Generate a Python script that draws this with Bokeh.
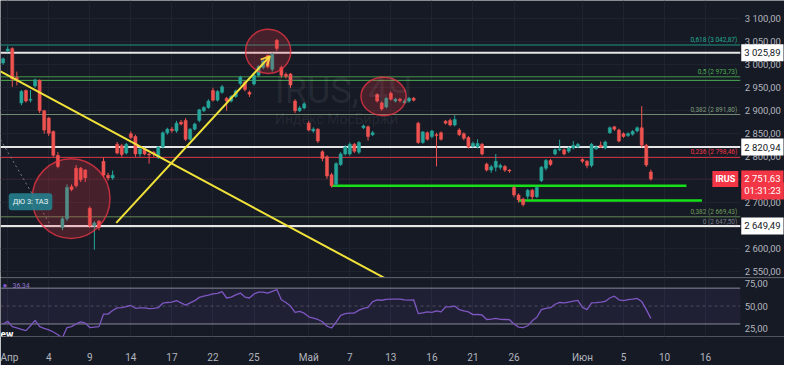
import numpy as np
from bokeh.plotting import figure
from bokeh.layouts import column
from bokeh.models import (ColumnDataSource, FixedTicker, CustomJSTickFormatter,
                          Label, Arrow, OpenHead, Range1d, Span, BoxAnnotation, LinearAxis)
from bokeh.embed import file_html
from bokeh.resources import INLINE

# ---------------- data ----------------
opens = [3004, 3030, 3035, 2972, 2917, 2944, 2923, 2954, 2966, 2900,
         2884, 2855, 2803, 2646, 2665, 2735, 2775, 2775, 2771, 2688,
         2650, 2660, 2790, 2760, 2754, 2827, 2824, 2808, 2850, 2844,
         2806, 2817, 2806, 2810, 2800, 2821, 2852, 2860, 2856, 2875,
         2879, 2838, 2860, 2879, 2900, 2907, 2944, 2923, 2940, 2927,
         2921, 2931, 2959, 2962, 2940, 2958, 2977, 2994, 3020, 2990,
         3053, 2994, 2979, 2980, 2921, 2900, 2906, 2873, 2856, 2860,
         2811, 2800, 2761, 2740, 2783, 2806, 2806, 2827, 2810, 2863,
         2865, 2848, 2935, 2917, 2908, 2938, 2921, 2925, 2917, 2921,
         2927, 2873, 2831, 2852, 2844, 2848, 2852, 2877, 2879, 2869,
         2858, 2850, 2842, 2823, 2821, 2827, 2784, 2771, 2777, 2777,
         2779, 2771, 2733, 2717, 2708, 2714, 2727, 2713, 2748, 2775,
         2792, 2806, 2815, 2815, 2812, 2819, 2822, 2794, 2790, 2781,
         2817, 2825, 2819, 2852, 2865, 2858, 2850, 2846, 2849, 2856,
         2863, 2825, 2767]
closes = [3013, 3034, 2969, 2968, 2942, 2921, 2925, 2967, 2900, 2858,
          2851, 2803, 2779, 2665, 2733, 2729, 2737, 2750, 2754, 2650,
          2656, 2646, 2760, 2754, 2760, 2808, 2805, 2827, 2842, 2806,
          2817, 2806, 2804, 2806, 2821, 2852, 2860, 2857, 2873, 2871,
          2838, 2860, 2871, 2902, 2907, 2921, 2923, 2942, 2952, 2921,
          2931, 2943, 2973, 2946, 2936, 2977, 2996, 3008, 2995, 3023,
          3035, 2977, 2975, 2956, 2900, 2906, 2915, 2858, 2860, 2834,
          2796, 2758, 2737, 2785, 2806, 2821, 2827, 2812, 2831, 2867,
          2844, 2852, 2921, 2904, 2927, 2925, 2925, 2922, 2921, 2927,
          2923, 2831, 2854, 2838, 2856, 2846, 2838, 2873, 2869, 2881,
          2848, 2840, 2821, 2829, 2829, 2806, 2771, 2778, 2790, 2781,
          2771, 2769, 2717, 2706, 2696, 2727, 2713, 2733, 2777, 2792,
          2783, 2815, 2817, 2806, 2819, 2825, 2827, 2790, 2781, 2827,
          2821, 2821, 2832, 2863, 2860, 2834, 2844, 2850, 2855, 2863,
          2825, 2782, 2751.63]
highs = [3016, 3040, 3038, 2985, 2945, 2946, 2945, 2970, 2968, 2902,
         2886, 2857, 2810, 2670, 2740, 2740, 2782, 2778, 2773, 2692,
         2660, 2662, 2798, 2765, 2770, 2832, 2828, 2830, 2855, 2848,
         2820, 2820, 2808, 2812, 2823, 2855, 2863, 2865, 2878, 2880,
         2884, 2862, 2874, 2904, 2910, 2925, 2950, 2945, 2956, 2930,
         2934, 2946, 2976, 2965, 2944, 2980, 2999, 3012, 3022, 3026,
         3056, 2998, 2983, 2982, 2925, 2910, 2918, 2878, 2864, 2862,
         2814, 2803, 2765, 2788, 2810, 2825, 2831, 2830, 2834, 2870,
         2868, 2856, 2938, 2920, 2930, 2942, 2928, 2928, 2925, 2930,
         2930, 2876, 2856, 2855, 2858, 2852, 2855, 2880, 2883, 2890,
         2862, 2853, 2845, 2833, 2838, 2830, 2787, 2782, 2806, 2785,
         2782, 2773, 2736, 2720, 2711, 2730, 2730, 2736, 2780, 2795,
         2795, 2818, 2837, 2818, 2822, 2834, 2830, 2797, 2793, 2830,
         2825, 2833, 2835, 2866, 2867, 2861, 2853, 2853, 2858, 2866,
         2910, 2828, 2772]
lows = [3000, 3027, 2952, 2955, 2912, 2918, 2918, 2950, 2895, 2850,
        2845, 2800, 2775, 2640, 2660, 2725, 2733, 2745, 2745, 2645,
        2598, 2640, 2755, 2748, 2750, 2805, 2800, 2805, 2838, 2800,
        2800, 2803, 2785, 2800, 2795, 2818, 2848, 2852, 2852, 2868,
        2834, 2835, 2857, 2875, 2897, 2904, 2920, 2920, 2937, 2900,
        2918, 2928, 2955, 2942, 2930, 2955, 2974, 2990, 2992, 2985,
        3030, 2972, 2970, 2950, 2895, 2897, 2903, 2855, 2852, 2830,
        2790, 2752, 2733, 2735, 2780, 2803, 2802, 2808, 2806, 2860,
        2835, 2845, 2918, 2900, 2905, 2922, 2918, 2918, 2915, 2918,
        2920, 2828, 2828, 2835, 2840, 2779, 2835, 2870, 2866, 2866,
        2845, 2836, 2818, 2820, 2818, 2803, 2768, 2765, 2768, 2772,
        2767, 2765, 2712, 2700, 2692, 2708, 2706, 2710, 2745, 2770,
        2780, 2803, 2812, 2803, 2808, 2816, 2819, 2786, 2775, 2777,
        2815, 2819, 2816, 2850, 2856, 2831, 2841, 2843, 2846, 2853,
        2820, 2778, 2748]
rsi = [30, 33, 27, 25.5, 24, 22.5, 28, 34, 27, 25,
       23.4, 21, 18, 14.6, 26, 27, 30, 32.3, 31, 26,
       26.5, 27, 41, 41, 45, 48, 48.2, 49.5, 50.7, 47.5,
       48, 48, 47.2, 47.5, 48.2, 53.2, 54, 54.5, 56.2, 53.5,
       51, 53.5, 56, 59.7, 61, 62.2, 63.5, 64.2, 66, 59,
       60, 62.5, 64.5, 60, 59, 63.5, 65.5, 65.5, 64.5, 66.5,
       68.4, 57, 54, 50, 43, 44, 42, 38, 36.5, 35,
       32.5, 27.5, 25.5, 32, 39.5, 41.5, 42.2, 42.2, 45.5, 47.5,
       48.5, 55, 57, 56.5, 57.5, 57.8, 57.8, 57.8, 57, 56.7,
       57, 41.5, 42.5, 43.5, 43, 44.5, 43.5, 49, 49, 50,
       46, 44.5, 43.5, 40.5, 40.8, 40, 35, 35.5, 36.3, 35.2,
       35, 34.8, 30, 26.5, 25.9, 28, 33.5, 37.5, 46, 47.5,
       48.2, 52, 54, 53.5, 54.5, 55.5, 56.3, 48.5, 46, 53.5,
       53.8, 54.3, 55.2, 59, 61, 57, 56, 57.3, 57.7, 58.5,
       55, 46, 36.3]
rsi_last_text = "36,34"

tick_pos = [1, 10, 19, 28, 37, 46, 55, 67, 76, 85, 94, 103, 112, 127, 136, 145, 154]
tick_labels = ["Апр", "4", "9", "14", "17", "22", "25", "Май", "7", "13", "16", "21", "26",
               "Июн", "5", "10", "16"]
price_ticks = [2550, 2600, 2650, 2700, 2750, 2800, 2850, 2900, 2950, 3000, 3050, 3100]
rsi_ticks = [25, 50, 75]

fib_levels = [3042.87, 2973.73, 2891.80, 2798.46, 2669.43, 2647.50]
fib_texts = ["0,618 (3 042,87)", "0,5 (2 973,73)", "0,382 (2 891,80)", "0,236 (2 798,46)",
             "0,382 (2 669,43)", "0 (2 647,50)"]
fib_colors = ["#22ab94", "#4caf50", "#7f9c7c", "#f23645", "#6f9a5a", "#787b86"]
extra_green_level = 2966.0
white_levels = [3025.89, 2820.94, 2649.49]
last_price = 2751.63
last_timer = "01:31:23"
ticker_name = "IRUS"

support_x0 = [72, 113]
support_x1 = [149.8, 153.2]
support_y = [2737, 2705]

trend_x = [-0.58, 83.8]
trend_y = [2985.4, 2535.4]
arrow_start = (24.8, 2656.3)
arrow_end = (58.5, 3018.7)
dotted_x = [-0.58, 10.2]
dotted_y = [2837.5, 2654.0]

circ_x = [14.9, 58.1, 83.4]
circ_y = [2709.0, 3029.0, 2931.0]
circ_w = [17.06, 9.9, 9.9]
circ_h = [173.6, 95.8, 83.3]

note_text = "ДЮ 3: ТАЗ"
note_pos = (6.0, 2702.0)
watermark = ("IRUS, 4Ч", "Индекс МосБиржи")
watermark_pos = (59.6, 2942.0, 2883.0)

rsi_bands = [70, 30]
rsi_mid = 50

# ---------------- style ----------------
BG = "#161a25"
GRID = "#1f2330"
TXT = "#b2b5be"
UP = "#26a69a"
DN = "#ef5350"
YEL = "#f2e33a"
FW = 784
X0, XA, XR = -0.58, 161.6, 171.3   # left edge, pane right edge, canvas right edge (bar units)
X_SCALE = XA - 1.0                  # where the price-scale labels start

price_fmt = CustomJSTickFormatter(code="""
const s = tick.toFixed(2).split('.');
let a = s[0];
if (a.length > 3) { a = a.slice(0, a.length - 3) + ' ' + a.slice(a.length - 3); }
return a + ',' + s[1];
""")


def fmt_price(v):
    return f"{v:,.2f}".replace(",", " ").replace(".", ",")


def style_axis(ax):
    ax.axis_line_color = None
    ax.major_tick_line_color = None
    ax.minor_tick_line_color = None
    ax.major_label_text_color = TXT
    ax.major_label_text_font = "Roboto"
    ax.major_label_text_font_size = "9.5px"


def hline(p, y, **kw):
    p.segment(x0=[X0], y0=[y], x1=[XA], y1=[y], **kw)


def limit_grid(g):
    try:
        g.cross_bounds = (X0, XA)
    except Exception:
        g.visible = False


# ---------------- price pane ----------------
p1 = figure(frame_width=FW, frame_height=277, x_range=Range1d(X0, XR), y_range=Range1d(2537.5, 3139.6),
            output_backend="svg", toolbar_location=None, y_axis_location=None, x_axis_location=None,
            background_fill_color=BG, border_fill_color=BG, outline_line_color=None,
            min_border_left=0, min_border_right=0, min_border_top=0, min_border_bottom=0)
yax = LinearAxis(fixed_location=X_SCALE, ticker=FixedTicker(ticks=price_ticks), formatter=price_fmt)
style_axis(yax)
yax.major_label_standoff = 3
p1.add_layout(yax, "right")
p1.xgrid.ticker = FixedTicker(ticks=tick_pos)
p1.xgrid.grid_line_color = GRID
p1.ygrid.ticker = FixedTicker(ticks=price_ticks)
p1.ygrid.grid_line_color = GRID
limit_grid(p1.ygrid)

# watermark
p1.add_layout(Label(x=watermark_pos[0], y=watermark_pos[1], text=watermark[0], text_font="Roboto",
                    text_font_size="36px", text_color="#ffffff", text_alpha=0.07, text_baseline="middle"))
p1.add_layout(Label(x=watermark_pos[0], y=watermark_pos[2], text=watermark[1], text_font="Roboto",
                    text_font_size="14px", text_color="#ffffff", text_alpha=0.07, text_baseline="middle"))

# levels
for lv, col in zip(fib_levels, fib_colors):
    hline(p1, lv, line_color=col, line_width=1, line_alpha=0.85)
hline(p1, extra_green_level, line_color="#4caf50", line_width=1)
for lv in white_levels:
    hline(p1, lv, line_color="#e6e6e6", line_width=2)
hline(p1, last_price, line_color="#f23645", line_alpha=0.35, line_width=1, line_dash="1 2")
for lv, txt, col in zip(fib_levels, fib_texts, fib_colors):
    p1.add_layout(Label(x=XA, y=lv, text=txt, text_align="right", text_baseline="bottom", x_offset=-3,
                        text_font="Roboto", text_font_size="6.5px", text_color=col, y_offset=1))

# support rays
p1.segment(x0=support_x0, y0=support_y, x1=support_x1, y1=support_y, line_color="#16e01a", line_width=2.5)

# candles
idx = np.arange(len(opens))
o = np.array(opens, dtype=float)
c = np.array(closes, dtype=float)
cols = np.where(c >= o, UP, DN)
src = ColumnDataSource(dict(x=idx, h=highs, l=lows, top=np.maximum(o, c), bot=np.minimum(o, c), col=cols))
p1.segment("x", "h", "x", "l", source=src, line_color="col", line_width=1)
p1.vbar(x="x", width=0.68, top="top", bottom="bot", source=src, fill_color="col", line_color="col",
        line_width=0.5)

# drawings
p1.line(trend_x, trend_y, line_color=YEL, line_width=2)
p1.line(dotted_x, dotted_y, line_color="#787b86", line_width=1, line_dash="2 3")
p1.add_layout(Arrow(end=OpenHead(size=9, line_color="#f5c542", line_width=2),
                    x_start=arrow_start[0], y_start=arrow_start[1], x_end=arrow_end[0], y_end=arrow_end[1],
                    line_color=YEL, line_width=2))
p1.ellipse(x=circ_x, y=circ_y, width=circ_w, height=circ_h, fill_color="#f23645", fill_alpha=0.22,
           line_color="#f23645", line_alpha=0.75, line_width=1.5)
p1.add_layout(Label(x=note_pos[0], y=note_pos[1], text=note_text, text_align="center", text_baseline="middle",
                    text_font="Roboto", text_font_size="7.5px", text_color="#e8f4f6",
                    background_fill_color="#25808e", background_fill_alpha=0.9, padding=4, border_radius=3))

# price tags on the price scale
for lv in white_levels:
    p1.add_layout(Label(x=XA, y=lv, x_offset=1, text=fmt_price(lv), text_baseline="middle",
                        text_font="Roboto", text_font_size="9.5px", text_color="#131722",
                        background_fill_color="#ffffff", padding=3))
p1.add_layout(Label(x=XA, y=last_price, x_offset=-2, text=ticker_name, text_align="right",
                    text_baseline="middle", text_font="Roboto", text_font_size="9px", text_font_style="bold",
                    text_color="#ffffff", background_fill_color="#f23645", padding=3))
p1.add_layout(Label(x=XA, y=last_price, x_offset=1, text=fmt_price(last_price), text_baseline="middle",
                    text_font="Roboto", text_font_size="9.5px", text_color="#ffffff",
                    background_fill_color="#f23645", padding=3))
p1.add_layout(Label(x=XA, y=last_price, x_offset=1, y_offset=-12, text=last_timer,
                    text_baseline="middle", text_font="Roboto", text_font_size="9.5px", text_color="#ffffff",
                    background_fill_color="#f23645", padding=3))

# ---------------- RSI pane ----------------
p2 = figure(frame_width=FW, frame_height=59, x_range=p1.x_range, y_range=Range1d(16, 81.9),
            output_backend="svg", toolbar_location=None, y_axis_location=None,
            background_fill_color=BG, border_fill_color=BG, outline_line_color=None,
            min_border_left=0, min_border_right=0, min_border_top=0, min_border_bottom=26)
rax = LinearAxis(fixed_location=X_SCALE, ticker=FixedTicker(ticks=rsi_ticks), formatter=price_fmt)
style_axis(rax)
rax.major_label_standoff = 3
p2.add_layout(rax, "right")
p2.xaxis.ticker = FixedTicker(ticks=tick_pos)
p2.xaxis.major_label_overrides = {t: s for t, s in zip(tick_pos, tick_labels)}
style_axis(p2.xaxis)
p2.xaxis.major_label_text_font_size = "10px"
p2.xaxis.major_label_standoff = 9
p2.xgrid.ticker = FixedTicker(ticks=tick_pos)
p2.xgrid.grid_line_color = GRID
p2.ygrid.grid_line_color = None

p2.add_layout(BoxAnnotation(left=X0, right=XA, bottom=rsi_bands[1], top=rsi_bands[0], fill_color="#7e57c2",
                            fill_alpha=0.1, line_color=None))
for b in rsi_bands:
    hline(p2, b, line_color="#8a8d96", line_width=1)
hline(p2, rsi_mid, line_color="#787b86", line_alpha=0.5, line_width=1, line_dash="3 3")
p2.add_layout(Span(location=81.9, dimension="width", line_color="#2a2e39", line_width=2))
p2.line(idx, rsi, line_color="#7e57c2", line_width=1.3)
p2.add_layout(Label(x=2, x_units="screen", y=73.4, text="●", text_baseline="middle", text_font="Roboto",
                    text_font_size="8px", text_color="#7e57c2"))
p2.add_layout(Label(x=12, x_units="screen", y=73.4, text=rsi_last_text, text_baseline="middle",
                    text_font="Roboto", text_font_size="7px", text_color="#9575cd"))
p2.add_layout(Label(x=0, x_units="screen", y=18.5, text="ew", text_baseline="middle", text_font="Roboto",
                    text_font_size="10px", text_font_style="bold", text_color="#ffffff"))

layout = column(p1, p2, spacing=0)
open("out.html", "w").write(file_html(layout, INLINE))
